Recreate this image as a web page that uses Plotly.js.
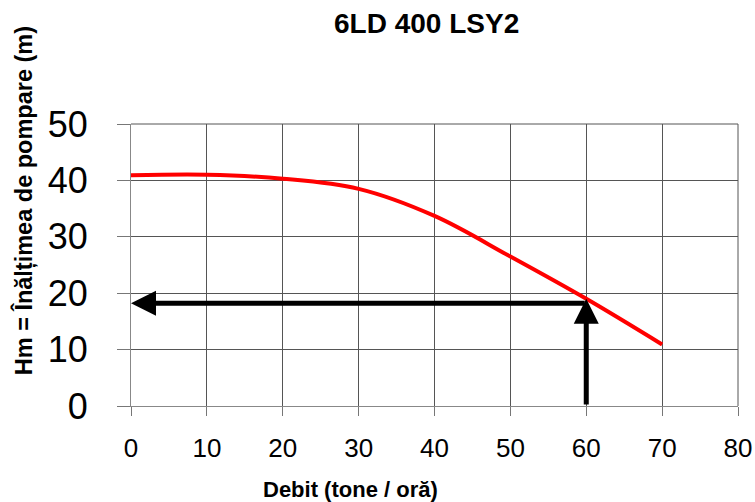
<!DOCTYPE html>
<html>
<head>
<meta charset="utf-8">
<script src="https://cdn.plot.ly/plotly-3.0.1.min.js"></script>
<style>html,body{margin:0;padding:0;background:#fff;}#chart{width:755px;height:502px;}</style>
</head>
<body>
<div id="chart"></div>
<script>
// Data
const debit = [0, 10, 20, 30, 40, 50, 60, 70];
const inaltime = [40.9, 41.0, 40.3, 38.5, 33.7, 26.5, 19.0, 10.9];
const xTicks = [0, 10, 20, 30, 40, 50, 60, 70, 80];
const yTicks = [0, 10, 20, 30, 40, 50];
const opDebit = 60;
const opHm = 18.2;

const chartTitle = '6LD 400 LSY2';
const xTitle = 'Debit (tone / oră)';
const yTitle = 'Hm = Înălțimea de pompare (m)';

const trace = {
  x: debit, y: inaltime, type: 'scatter', mode: 'lines',
  line: {color: '#ff0000', width: 4, shape: 'spline', smoothing: 1},
  hoverinfo: 'skip'
};

const gridCol = '#555555';
const layout = {
  width: 755, height: 502,
  margin: {l: 131, r: 17, t: 124, b: 96},
  paper_bgcolor: '#ffffff', plot_bgcolor: '#ffffff',
  showlegend: false,
  font: {family: 'Liberation Sans, Arial, sans-serif', color: '#000'},
  xaxis: {
    range: [0, 80], tickvals: xTicks, ticktext: xTicks.map(String),
    showgrid: true, gridcolor: gridCol, gridwidth: 1,
    zeroline: false, showline: true, linecolor: '#888', linewidth: 1, mirror: false,
    ticks: 'outside', ticklen: 9, tickcolor: '#777', tickwidth: 1,
    ticklabelstandoff: 10,
    tickfont: {size: 26, color: '#000'}
  },
  yaxis: {
    range: [0, 50], tickvals: yTicks, ticktext: yTicks.map(String),
    showgrid: true, gridcolor: gridCol, gridwidth: 1,
    zeroline: false, showline: true, linecolor: '#888', linewidth: 1,
    ticks: 'outside', ticklen: 13, tickcolor: '#777', tickwidth: 1,
    ticklabelstandoff: 22,
    tickfont: {size: 36, color: '#000'}
  },
  shapes: [
    {type: 'line', xref: 'paper', yref: 'paper', x0: 1, x1: 1, y0: 0, y1: 1, line: {color: gridCol, width: 1}},
    {type: 'line', xref: 'paper', yref: 'paper', x0: 0, x1: 1, y0: 1, y1: 1, line: {color: gridCol, width: 1}}
  ],
  annotations: [
    {text: '<b>' + chartTitle + '</b>', xref: 'paper', yref: 'paper', x: 0.487, y: 1, yshift: 101,
     xanchor: 'center', yanchor: 'middle', showarrow: false, font: {size: 28, color: '#000'}},
    {text: '<b>' + xTitle + '</b>', xref: 'paper', yref: 'paper', x: 0.361, y: 0, yshift: -83,
     xanchor: 'center', yanchor: 'middle', showarrow: false, font: {size: 22, color: '#000'}},
    {text: '<b>' + yTitle + '</b>', xref: 'paper', yref: 'paper', x: 0, xshift: -107, y: 0.726,
     xanchor: 'center', yanchor: 'middle', textangle: -90, showarrow: false, font: {size: 23.5, color: '#000'}},
    {x: 0, y: opHm, ax: opDebit, ay: opHm, xref: 'x', yref: 'y', axref: 'x', ayref: 'y',
     text: '', showarrow: true, arrowhead: 2, arrowsize: 1, arrowwidth: 5, arrowcolor: '#000', standoff: 0, startstandoff: 0},
    {x: opDebit, y: opHm + 0.8, ax: opDebit, ay: 0, xref: 'x', yref: 'y', axref: 'x', ayref: 'y',
     text: '', showarrow: true, arrowhead: 2, arrowsize: 1, arrowwidth: 5, arrowcolor: '#000', standoff: 0, startstandoff: 0}
  ]
};

Plotly.newPlot('chart', [trace], layout, {displayModeBar: false, staticPlot: true});
</script>
</body>
</html>
